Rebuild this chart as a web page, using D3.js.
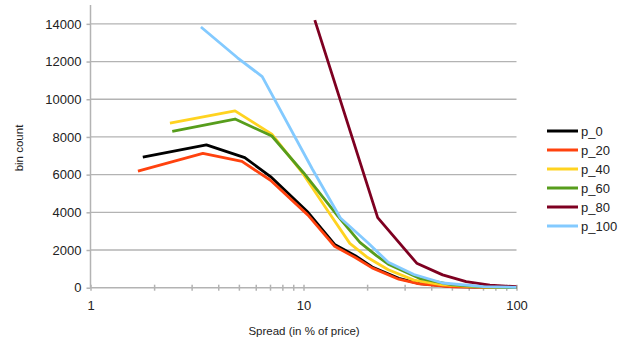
<!DOCTYPE html>
<html><head><meta charset="utf-8">
<script src="https://cdn.jsdelivr.net/npm/d3@7"></script>
<style>body{margin:0;background:#fff}svg{display:block}text{font-family:"Liberation Sans",Arial,sans-serif}</style>
</head><body><svg id="c" width="628" height="343"></svg>
<script>
const seriesNames = ["p_0","p_20","p_40","p_60","p_80","p_100"];
const seriesColors = ["#000000","#ff420e","#ffd320","#579d1c","#7e0021","#83caff"];
const p_0 = [[1.76,6930],[3.5,7580],[5.3,6900],[7.0,5900],[10.5,4000],[14.0,2300],[17.5,1700],[21,1100],[28,500],[35,220],[50,60],[100,0]];
const p_20 = [[1.67,6190],[3.37,7130],[5.14,6700],[7.0,5700],[10.5,3850],[14,2200],[17.5,1600],[21,1050],[28,450],[35,200],[50,50],[100,0]];
const p_40 = [[2.36,8730],[4.77,9380],[7.1,8150],[9.8,6150],[13.5,3800],[16.5,2350],[20,1600],[25,950],[33,400],[45,150],[70,30],[100,0]];
const p_60 = [[2.42,8300],[4.77,8950],[7.1,8050],[10,6100],[14.5,3800],[18.4,2400],[22,1700],[25,1250],[35,500],[50,150],[70,40],[100,0]];
const p_80 = [[11.3,14200],[22.3,3720],[34,1300],[45,680],[58,320],[75,140],[100,50]];
const p_100 = [[3.3,13830],[4.9,12200],[6.4,11200],[11,6300],[14.9,3700],[20,2400],[25,1350],[33,700],[45,250],[70,60],[100,20]];
const seriesData = [p_0,p_20,p_40,p_60,p_80,p_100];
const yTicks = [0,2000,4000,6000,8000,10000,12000,14000];
const xMajor = [1,10,100];
const xMinor = [2,3,4,5,6,7,8,9,20,30,40,50,60,70,80,90];

const svg = d3.select("#c");
const x = d3.scaleLog().domain([1,100]).range([90.5,516.5]);
const y = d3.scaleLinear().domain([0,15000]).range([287.7,5]);
const grid = "#b3b3b3";

// gridlines
svg.append("g").selectAll("line").data(yTicks.filter(d=>d>0)).join("line")
  .attr("x1",90.5).attr("x2",516.5).attr("y1",d=>y(d)).attr("y2",d=>y(d))
  .attr("stroke",grid).attr("stroke-width",1.3);

// y axis
const ya = svg.append("g").attr("transform","translate(90.5,0)")
  .call(d3.axisLeft(y).tickValues(yTicks).tickSize(4).tickPadding(5).tickFormat(d3.format("d")));
ya.select(".domain").attr("d","M0,5V287.7").attr("stroke",grid).attr("stroke-width",1.5);
ya.selectAll(".tick line").attr("stroke",grid).attr("stroke-width",1.5);
ya.selectAll("text").attr("font-size",13).attr("fill","#222");

// x axis
const xa = svg.append("g").attr("transform","translate(0,287.7)")
  .call(d3.axisBottom(x).tickValues(xMajor).tickSize(3).tickPadding(10).tickFormat(d3.format("d")));
xa.select(".domain").attr("d","M90.5,0H516.5").attr("stroke",grid).attr("stroke-width",1.5);
xa.selectAll(".tick line").attr("y1",-3).attr("y2",3).attr("stroke",grid).attr("stroke-width",1.5);
xa.selectAll("text").attr("font-size",13).attr("fill","#222");
svg.append("g").selectAll("line").data(xMinor).join("line")
  .attr("x1",d=>x(d)).attr("x2",d=>x(d)).attr("y1",284.7).attr("y2",290.7)
  .attr("stroke",grid).attr("stroke-width",1.5);

// lines
const line = d3.line().x(d=>x(d[0])).y(d=>y(d[1]));
seriesData.forEach((s,i)=>{
  svg.append("path").datum(s).attr("d",line).attr("fill","none")
    .attr("stroke",seriesColors[i]).attr("stroke-width",2.8).attr("stroke-linejoin","round");
});

// axis titles
svg.append("text").attr("x",304).attr("y",335).attr("text-anchor","middle")
  .attr("font-size",11.5).attr("fill","#222").text("Spread (in % of price)");
svg.append("text").attr("transform","translate(23,148) rotate(-90)").attr("text-anchor","middle")
  .attr("font-size",11.5).attr("fill","#222").text("bin count");

// legend
const lg = svg.append("g").selectAll("g").data(seriesNames).join("g")
  .attr("transform",(d,i)=>`translate(547,${131+i*19})`);
lg.append("line").attr("x1",0).attr("x2",31).attr("y1",0).attr("y2",0)
  .attr("stroke",(d,i)=>seriesColors[i]).attr("stroke-width",3);
lg.append("text").attr("x",34).attr("y",4.5).attr("font-size",13).attr("fill","#222").text(d=>d);
</script></body></html>
